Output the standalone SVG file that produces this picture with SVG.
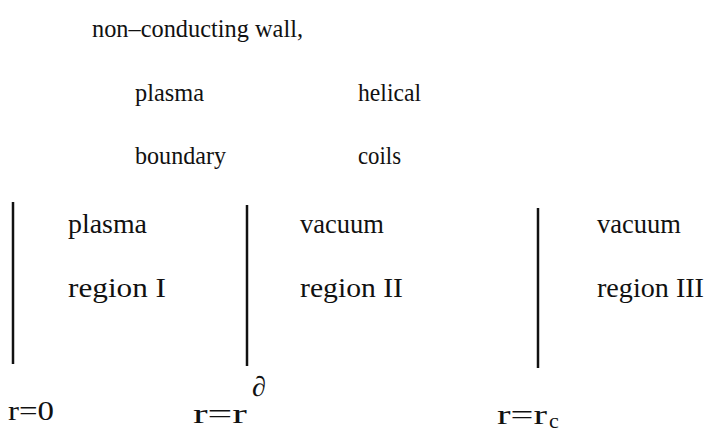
<svg xmlns="http://www.w3.org/2000/svg" width="714" height="432" viewBox="0 0 714 432">
<style>
text{font-family:"Liberation Serif","DejaVu Serif",serif;font-size:26px;fill:#111}
.reg{font-size:28px}
.rad{font-size:28px}
.wall{stroke:#111;stroke-width:2.5;fill:none}
.sup{font-size:28px;font-style:italic}
.sub{font-size:22px}
</style>
<rect width="714" height="432" fill="#fff"/>
<g id="labels-top">
<text x="92" y="37" textLength="211" lengthAdjust="spacingAndGlyphs">non–conducting wall,</text>
<text x="135" y="101" textLength="69" lengthAdjust="spacingAndGlyphs">plasma</text>
<text x="135" y="164" textLength="91" lengthAdjust="spacingAndGlyphs">boundary</text>
<text x="358" y="101" textLength="63" lengthAdjust="spacingAndGlyphs">helical</text>
<text x="358" y="164" textLength="43" lengthAdjust="spacingAndGlyphs">coils</text>
</g>
<g id="connectors">
<line class="wall" x1="13" y1="202" x2="13" y2="364"/>
<line class="wall" x1="247" y1="205" x2="247" y2="366"/>
<line class="wall" x1="538" y1="208" x2="538" y2="368"/>
</g>
<g id="region1">
<text class="reg" x="68" y="233" textLength="79" lengthAdjust="spacingAndGlyphs">plasma</text>
<text class="reg" x="68" y="297" textLength="98" lengthAdjust="spacingAndGlyphs">region I</text>
</g>
<g id="region2">
<text class="reg" x="300" y="233" textLength="84" lengthAdjust="spacingAndGlyphs">vacuum</text>
<text class="reg" x="300" y="297" textLength="103" lengthAdjust="spacingAndGlyphs">region II</text>
</g>
<g id="region3">
<text class="reg" x="597" y="233" textLength="84" lengthAdjust="spacingAndGlyphs">vacuum</text>
<text class="reg" x="597" y="297" textLength="107" lengthAdjust="spacingAndGlyphs">region III</text>
</g>
<g id="radii">
<text class="rad" x="8" y="420" textLength="46" lengthAdjust="spacingAndGlyphs">r=0</text>
<text class="rad" x="193" y="423" textLength="54" lengthAdjust="spacingAndGlyphs">r=r</text>
<text class="sup" x="252" y="396">∂</text>
<text class="rad" x="497" y="424" textLength="50" lengthAdjust="spacingAndGlyphs">r=r</text>
<text class="sub" x="549" y="428">c</text>
</g>
</svg>
